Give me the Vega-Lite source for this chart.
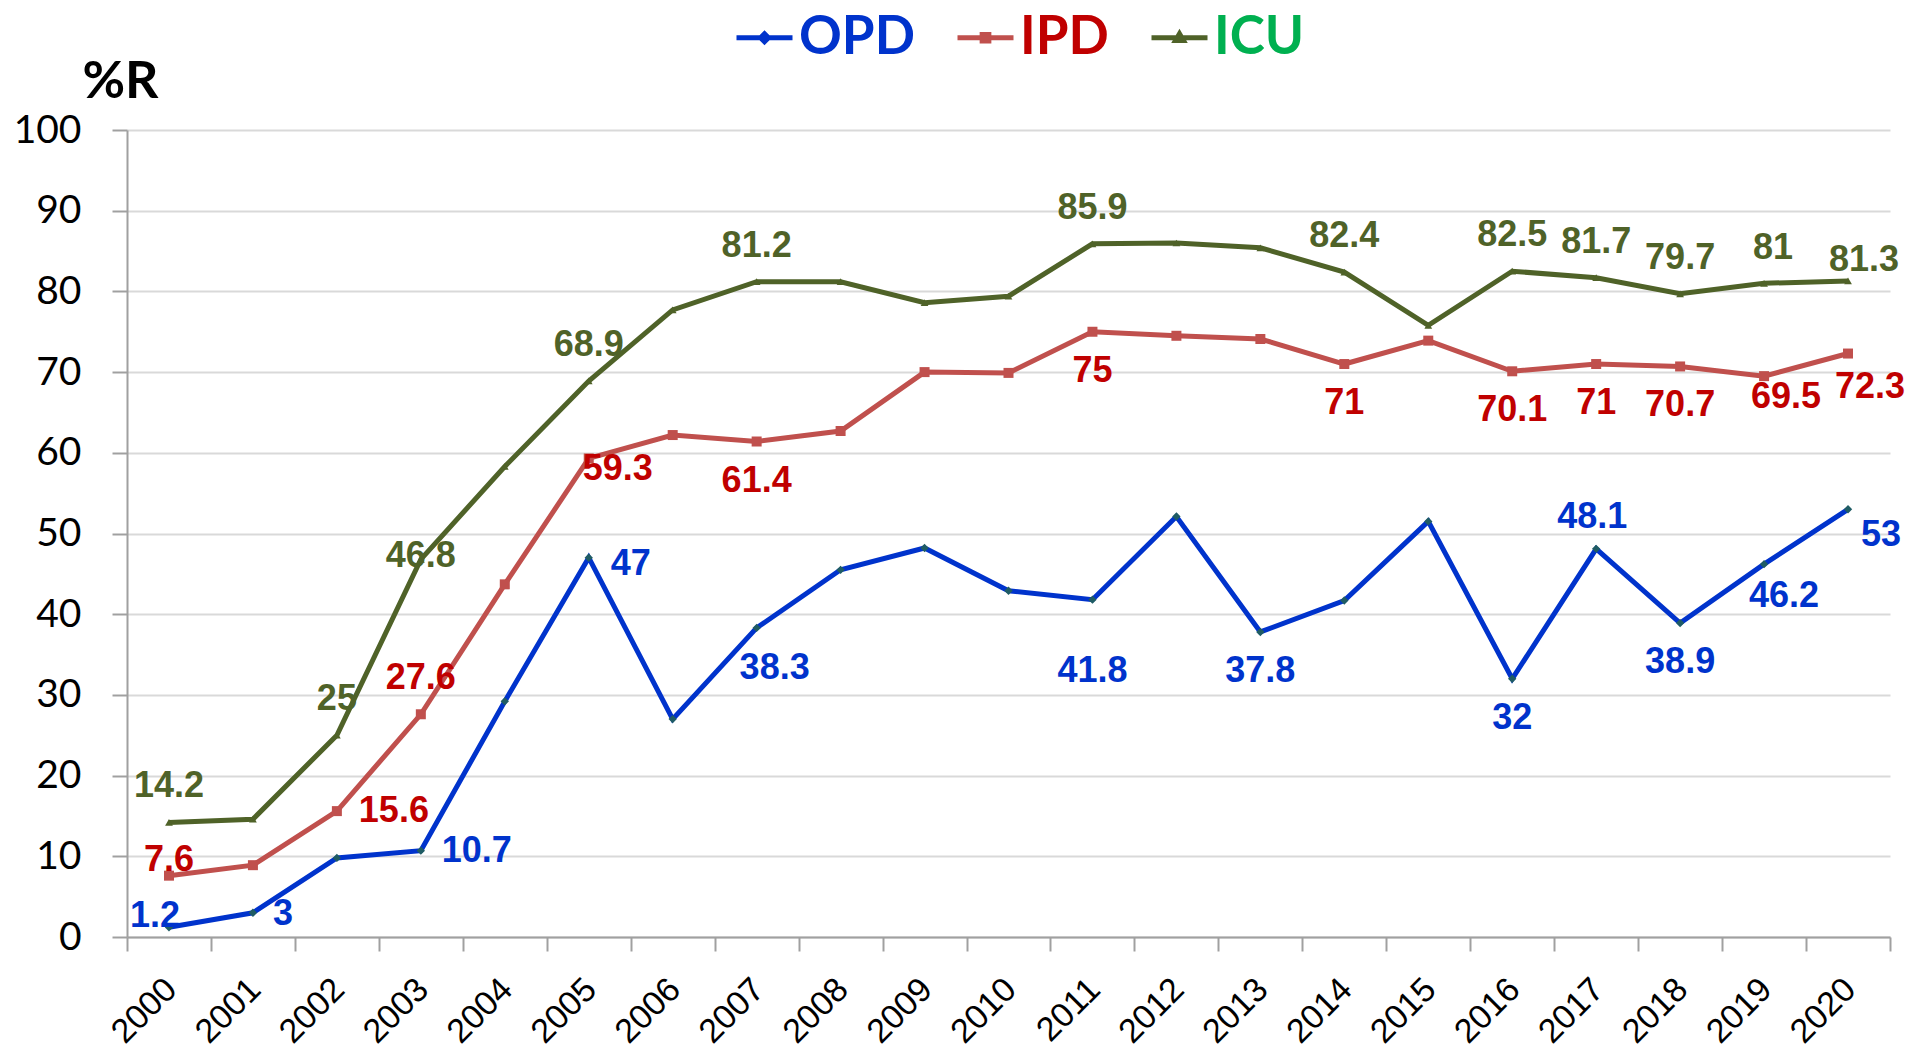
{
  "$schema": "https://vega.github.io/schema/vega-lite/v6.json",
  "width": 1763,
  "height": 807,
  "autosize": {"type": "none"},
  "padding": {"left": 127, "top": 130, "right": 25, "bottom": 113},
  "background": "white",
  "config": {"view": {"stroke": null}},
  "data": {"values": [
    {"year": "2000", "s": "OPD", "v": 1.2}, {"year": "2001", "s": "OPD", "v": 3}, {"year": "2002", "s": "OPD", "v": 9.8},
    {"year": "2003", "s": "OPD", "v": 10.7}, {"year": "2004", "s": "OPD", "v": 29.2}, {"year": "2005", "s": "OPD", "v": 47},
    {"year": "2006", "s": "OPD", "v": 27}, {"year": "2007", "s": "OPD", "v": 38.3}, {"year": "2008", "s": "OPD", "v": 45.5},
    {"year": "2009", "s": "OPD", "v": 48.2}, {"year": "2010", "s": "OPD", "v": 42.9}, {"year": "2011", "s": "OPD", "v": 41.8},
    {"year": "2012", "s": "OPD", "v": 52.1}, {"year": "2013", "s": "OPD", "v": 37.8}, {"year": "2014", "s": "OPD", "v": 41.7},
    {"year": "2015", "s": "OPD", "v": 51.5}, {"year": "2016", "s": "OPD", "v": 32}, {"year": "2017", "s": "OPD", "v": 48.1},
    {"year": "2018", "s": "OPD", "v": 38.9}, {"year": "2019", "s": "OPD", "v": 46.2}, {"year": "2020", "s": "OPD", "v": 53},
    {"year": "2000", "s": "IPD", "v": 7.6}, {"year": "2001", "s": "IPD", "v": 8.9}, {"year": "2002", "s": "IPD", "v": 15.6},
    {"year": "2003", "s": "IPD", "v": 27.6}, {"year": "2004", "s": "IPD", "v": 43.7}, {"year": "2005", "s": "IPD", "v": 59.3},
    {"year": "2006", "s": "IPD", "v": 62.2}, {"year": "2007", "s": "IPD", "v": 61.4}, {"year": "2008", "s": "IPD", "v": 62.7},
    {"year": "2009", "s": "IPD", "v": 70.0}, {"year": "2010", "s": "IPD", "v": 69.9}, {"year": "2011", "s": "IPD", "v": 75},
    {"year": "2012", "s": "IPD", "v": 74.5}, {"year": "2013", "s": "IPD", "v": 74.1}, {"year": "2014", "s": "IPD", "v": 71},
    {"year": "2015", "s": "IPD", "v": 73.9}, {"year": "2016", "s": "IPD", "v": 70.1}, {"year": "2017", "s": "IPD", "v": 71},
    {"year": "2018", "s": "IPD", "v": 70.7}, {"year": "2019", "s": "IPD", "v": 69.5}, {"year": "2020", "s": "IPD", "v": 72.3},
    {"year": "2000", "s": "ICU", "v": 14.2}, {"year": "2001", "s": "ICU", "v": 14.6}, {"year": "2002", "s": "ICU", "v": 25},
    {"year": "2003", "s": "ICU", "v": 46.8}, {"year": "2004", "s": "ICU", "v": 58.3}, {"year": "2005", "s": "ICU", "v": 68.9},
    {"year": "2006", "s": "ICU", "v": 77.7}, {"year": "2007", "s": "ICU", "v": 81.2}, {"year": "2008", "s": "ICU", "v": 81.2},
    {"year": "2009", "s": "ICU", "v": 78.6}, {"year": "2010", "s": "ICU", "v": 79.4}, {"year": "2011", "s": "ICU", "v": 85.9},
    {"year": "2012", "s": "ICU", "v": 86.0}, {"year": "2013", "s": "ICU", "v": 85.4}, {"year": "2014", "s": "ICU", "v": 82.4},
    {"year": "2015", "s": "ICU", "v": 75.8}, {"year": "2016", "s": "ICU", "v": 82.5}, {"year": "2017", "s": "ICU", "v": 81.7},
    {"year": "2018", "s": "ICU", "v": 79.7}, {"year": "2019", "s": "ICU", "v": 81}, {"year": "2020", "s": "ICU", "v": 81.3}
  ]},
  "encoding": {
    "x": {
      "field": "year", "type": "ordinal",
      "scale": {"type": "band", "paddingInner": 0, "paddingOuter": 0},
      "axis": {
        "title": null, "labelAngle": -45, "labelAlign": "right", "labelBaseline": "middle",
        "labelFont": "Liberation Sans", "labelFontSize": 34, "labelColor": "black",
        "labelPadding": 33, "labelOffset": 2, "tickBand": "extent", "tickSize": 14,
        "tickColor": "#a0a0a0", "tickWidth": 2, "domainColor": "#a0a0a0", "domainWidth": 2,
        "grid": false
      }
    },
    "y": {
      "field": "v", "type": "quantitative",
      "scale": {"domain": [0, 100], "nice": false},
      "axis": {
        "title": "%R", "titleAngle": 0, "titleAlign": "left", "titleBaseline": "alphabetic",
        "titleX": -45, "titleY": -33, "titleFont": "Lato", "titleFontSize": 52,
        "titleFontWeight": "bold", "titleColor": "black",
        "values": [0, 10, 20, 30, 40, 50, 60, 70, 80, 90, 100],
        "labelFont": "Lato", "labelFontSize": 39, "labelColor": "black", "labelPadding": 31,
        "tickSize": 15, "tickColor": "#a0a0a0", "tickWidth": 2,
        "domainColor": "#a0a0a0", "domainWidth": 2,
        "grid": true, "gridColor": "#d9d9d9", "gridWidth": 2
      }
    }
  },
  "layer": [
    {
      "mark": {"type": "line", "strokeWidth": 5},
      "encoding": {
        "color": {
          "field": "s", "type": "nominal",
          "scale": {"domain": ["OPD", "IPD", "ICU"], "range": ["#0033cc", "#c0504d", "#4f6228"]},
          "legend": {
            "title": null, "orient": "none", "legendX": 607, "legendY": -123,
            "direction": "horizontal", "padding": 0,
            "labelFont": "Lato", "labelFontSize": 53, "labelFontWeight": "bold",
            "labelOffset": 4, "labelLimit": 400, "columnPadding": 32,
            "symbolType": "M-1,0H1", "symbolSize": 3136, "symbolStrokeWidth": 5,
            "encode": {
              "labels": {"update": {"fill": {"signal": "datum.value === 'OPD' ? '#0033cc' : datum.value === 'IPD' ? '#c00000' : '#00b050'"}}},
              "symbols": {"update": {
                "shape": {"signal": "datum.value === 'OPD' ? 'M-1,0H1M0,-0.14L0.14,0L0,0.14L-0.14,0Z' : datum.value === 'IPD' ? 'M-1,0H1M-0.12,-0.12H0.12V0.12H-0.12Z' : 'M-1,0H1M0,-0.14L0.14,0.1L-0.14,0.1Z'"},
                "fill": {"signal": "datum.value === 'OPD' ? '#0033cc' : datum.value === 'IPD' ? '#c0504d' : '#4f6228'"}
              }}
            }
          }
        }
      }
    },
    {
      "transform": [{"filter": "datum.s === 'OPD'"}],
      "mark": {"type": "point", "shape": "diamond", "filled": true, "color": "#1f5c64", "size": 70, "opacity": 1}
    },
    {
      "transform": [{"filter": "datum.s === 'IPD'"}],
      "mark": {"type": "point", "shape": "square", "filled": true, "color": "#c0504d", "size": 100, "opacity": 1}
    },
    {
      "transform": [{"filter": "datum.s === 'ICU'"}],
      "mark": {"type": "point", "shape": "triangle-up", "filled": true, "color": "#4f6228", "size": 60, "opacity": 1}
    },
    {
      "encoding": {
        "text": {"field": "v", "type": "quantitative"},
        "color": {
          "condition": [
            {"test": "datum.s === 'OPD'", "value": "#0033cc"},
            {"test": "datum.s === 'IPD'", "value": "#c00000"}
          ],
          "value": "#4f6228"
        }
      },
      "layer": [
        {"transform": [{"filter": "(datum.s === 'ICU' && indexof(['2000','2002','2005','2007','2011','2014','2016','2017','2018'], datum.year) >= 0) || (datum.s === 'IPD' && datum.year === '2003')"}],
         "mark": {"type": "text", "font": "Liberation Sans", "fontWeight": "bold", "fontSize": 36, "align": "center", "baseline": "middle", "dx": 0, "dy": -36}},
        {"transform": [{"filter": "datum.s === 'ICU' && datum.year === '2019'"}],
         "mark": {"type": "text", "font": "Liberation Sans", "fontWeight": "bold", "fontSize": 36, "align": "center", "baseline": "middle", "dx": 9, "dy": -35}},
        {"transform": [{"filter": "datum.s === 'ICU' && datum.year === '2020'"}],
         "mark": {"type": "text", "font": "Liberation Sans", "fontWeight": "bold", "fontSize": 36, "align": "center", "baseline": "middle", "dx": 16, "dy": -21}},
        {"transform": [{"filter": "datum.s === 'ICU' && datum.year === '2003'"}],
         "mark": {"type": "text", "font": "Liberation Sans", "fontWeight": "bold", "fontSize": 36, "align": "center", "baseline": "middle", "dx": 0, "dy": -3}},
        {"transform": [{"filter": "(datum.s === 'OPD' && indexof(['2013','2016','2018'], datum.year) >= 0) || (datum.s === 'IPD' && indexof(['2007','2011','2014','2016','2017','2018'], datum.year) >= 0)"}],
         "mark": {"type": "text", "font": "Liberation Sans", "fontWeight": "bold", "fontSize": 36, "align": "center", "baseline": "middle", "dx": 0, "dy": 39}},
        {"transform": [{"filter": "datum.s === 'OPD' && datum.year === '2007'"}],
         "mark": {"type": "text", "font": "Liberation Sans", "fontWeight": "bold", "fontSize": 36, "align": "center", "baseline": "middle", "dx": 18, "dy": 40}},
        {"transform": [{"filter": "datum.s === 'OPD' && datum.year === '2011'"}],
         "mark": {"type": "text", "font": "Liberation Sans", "fontWeight": "bold", "fontSize": 36, "align": "center", "baseline": "middle", "dx": 0, "dy": 71}},
        {"transform": [{"filter": "datum.s === 'OPD' && datum.year === '2017'"}],
         "mark": {"type": "text", "font": "Liberation Sans", "fontWeight": "bold", "fontSize": 36, "align": "center", "baseline": "middle", "dx": -4, "dy": -32}},
        {"transform": [{"filter": "datum.s === 'OPD' && datum.year === '2019'"}],
         "mark": {"type": "text", "font": "Liberation Sans", "fontWeight": "bold", "fontSize": 36, "align": "center", "baseline": "middle", "dx": 20, "dy": 32}},
        {"transform": [{"filter": "datum.s === 'OPD' && datum.year === '2020'"}],
         "mark": {"type": "text", "font": "Liberation Sans", "fontWeight": "bold", "fontSize": 36, "align": "center", "baseline": "middle", "dx": 33, "dy": 26}},
        {"transform": [{"filter": "datum.s === 'OPD' && datum.year === '2000'"}],
         "mark": {"type": "text", "font": "Liberation Sans", "fontWeight": "bold", "fontSize": 36, "align": "center", "baseline": "middle", "dx": -14, "dy": -11}},
        {"transform": [{"filter": "datum.s === 'OPD' && datum.year === '2001'"}],
         "mark": {"type": "text", "font": "Liberation Sans", "fontWeight": "bold", "fontSize": 36, "align": "center", "baseline": "middle", "dx": 30, "dy": 1}},
        {"transform": [{"filter": "datum.s === 'OPD' && datum.year === '2003'"}],
         "mark": {"type": "text", "font": "Liberation Sans", "fontWeight": "bold", "fontSize": 36, "align": "center", "baseline": "middle", "dx": 56, "dy": 0}},
        {"transform": [{"filter": "datum.s === 'OPD' && datum.year === '2005'"}],
         "mark": {"type": "text", "font": "Liberation Sans", "fontWeight": "bold", "fontSize": 36, "align": "center", "baseline": "middle", "dx": 42, "dy": 6}},
        {"transform": [{"filter": "datum.s === 'IPD' && datum.year === '2000'"}],
         "mark": {"type": "text", "font": "Liberation Sans", "fontWeight": "bold", "fontSize": 36, "align": "center", "baseline": "middle", "dx": 0, "dy": -16}},
        {"transform": [{"filter": "datum.s === 'IPD' && datum.year === '2002'"}],
         "mark": {"type": "text", "font": "Liberation Sans", "fontWeight": "bold", "fontSize": 36, "align": "center", "baseline": "middle", "dx": 57, "dy": 0}},
        {"transform": [{"filter": "datum.s === 'IPD' && datum.year === '2005'"}],
         "mark": {"type": "text", "font": "Liberation Sans", "fontWeight": "bold", "fontSize": 36, "align": "center", "baseline": "middle", "dx": 29, "dy": 11}},
        {"transform": [{"filter": "datum.s === 'IPD' && datum.year === '2019'"}],
         "mark": {"type": "text", "font": "Liberation Sans", "fontWeight": "bold", "fontSize": 36, "align": "center", "baseline": "middle", "dx": 22, "dy": 21}},
        {"transform": [{"filter": "datum.s === 'IPD' && datum.year === '2020'"}],
         "mark": {"type": "text", "font": "Liberation Sans", "fontWeight": "bold", "fontSize": 36, "align": "center", "baseline": "middle", "dx": 22, "dy": 33}}
      ]
    }
  ]
}
